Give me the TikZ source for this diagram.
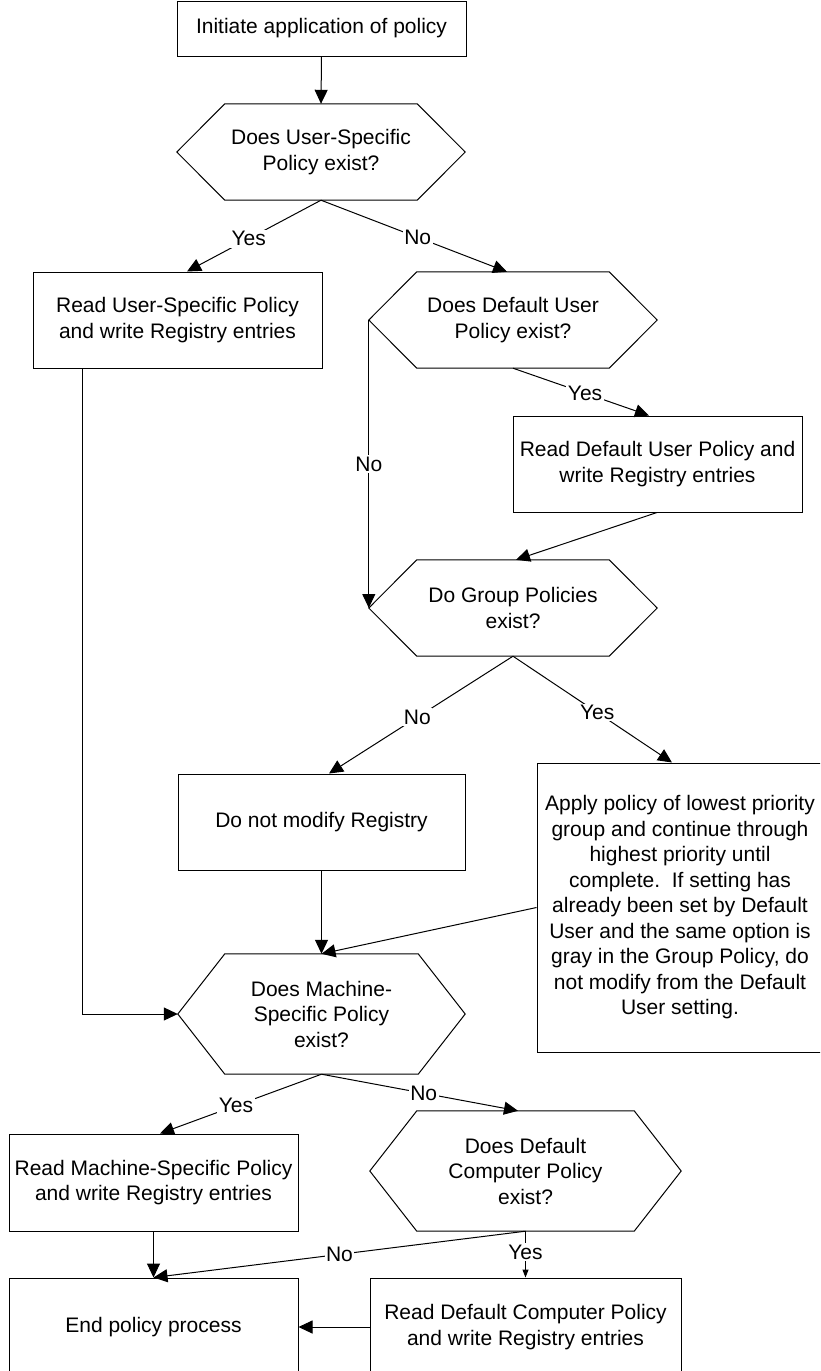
\documentclass[tikz,border=0pt]{standalone}
\usepackage{fontspec}
\setmainfont{Liberation Sans}
\usetikzlibrary{arrows.meta}
\tikzset{
  ln/.style={line width=1pt, draw=black},
  arr/.style={ln, -{Triangle[length=14pt,width=13pt]}},
  smallarr/.style={ln, -{Triangle[length=8pt,width=6pt]}},
  box/.style={draw=black, line width=1pt, inner sep=0pt, align=center, shape=rectangle},
  hexnode/.style={inner sep=0pt, align=center, shape=rectangle},
  lbl/.style={fill=white, inner sep=1.5pt}
}
\newcommand\hexpath[2]{\draw[ln] (#1.west) -- ([xshift=#2]#1.north west) -- ([xshift=-#2]#1.north east) -- (#1.east) -- ([xshift=-#2]#1.south east) -- ([xshift=#2]#1.south west) -- cycle;}
\begin{document}
\begin{tikzpicture}[x=1pt, y=-1pt, every node/.style={font=\fontsize{21}{25.5}\selectfont}]
\useasboundingbox (0,0) rectangle (820,1371);
\clip (0,0) rectangle (820,1371);
\fill[white] (0,0) rectangle (820,1371);

% nodes
\node[box, minimum width=289pt, minimum height=55pt] (b0) at (321.5,28.5) {Initiate application of policy};
\node[hexnode, minimum width=288pt, minimum height=96pt] (h1) at (321,152) {Does User-Specific\\Policy exist?};
\hexpath{h1}{48}
\node[box, minimum width=289pt, minimum height=96pt] (b1) at (177.5,320) {Read User-Specific Policy\\and write Registry entries};
\node[hexnode, minimum width=288pt, minimum height=96pt] (h2) at (513,320) {Does Default User\\Policy exist?};
\hexpath{h2}{48}
\node[box, minimum width=289pt, minimum height=96pt] (b2) at (657.5,464) {Read Default User Policy and\\write Registry entries};
\node[hexnode, minimum width=288pt, minimum height=96pt] (h3) at (513,608) {Do Group Policies\\exist?};
\hexpath{h3}{48}
\node[box, minimum width=287pt, minimum height=96pt] (b3) at (321.5,822) {Do not modify Registry};
\node[box, minimum width=286pt, minimum height=289pt] (b4) at (680,907.5) {Apply policy of lowest priority\\group and continue through\\highest priority until\\complete.\ \ If setting has\\already been set by Default\\User and the same option is\\gray in the Group Policy, do\\not modify from the Default\\User setting.};
\node[hexnode, minimum width=287pt, minimum height=120pt] (h4) at (321.5,1014) {Does Machine-\\Specific Policy\\exist?};
\hexpath{h4}{47}
\node[box, minimum width=289pt, minimum height=97pt] (b5) at (153.5,1182.5) {Read Machine-Specific Policy\\and write Registry entries};
\node[hexnode, minimum width=311pt, minimum height=120pt] (h5) at (525.5,1171) {Does Default\\Computer Policy\\exist?};
\hexpath{h5}{47}
\node[box, minimum width=289pt, minimum height=98pt] (b6) at (153.5,1327) {End policy process};
\node[box, minimum width=311pt, minimum height=98pt] (b7) at (525.5,1327) {Read Default Computer Policy\\and write Registry entries};

% connectors
\draw[arr] (b0.south) -- (h1.north);
\draw[arr] (h1.south) -- node[lbl, pos=0.54] {Yes} ([xshift=9.5pt]b1.north);
\draw[arr] (h1.south) -- node[lbl, pos=0.52] {No} ([xshift=-6pt]h2.north);
\draw[arr] (h2.south) -- node[lbl, pos=0.53] {Yes} ([xshift=-8.5pt]b2.north);
\draw[arr] (h2.west) -- node[lbl, pos=0.5] {No} (h3.west);
\draw[arr] ([xshift=-0.5pt]b2.south) -- ([xshift=3pt]h3.north);
\draw[arr] (h3.south) -- node[lbl, pos=0.52] {No} ([xshift=7.5pt]b3.north);
\draw[arr] (h3.south) -- node[lbl, pos=0.53] {Yes} ([xshift=-8pt]b4.north);
\draw[arr] (b3.south) -- (h4.north);
\draw[arr] (b4.west) -- (h4.north);
\draw[arr] ([xshift=-95.5pt]b1.south) |- (h4.west);
\draw[arr] (h4.south) -- node[lbl, pos=0.53] {Yes} ([xshift=6.5pt]b5.north);
\draw[arr] (h4.south) -- node[lbl, pos=0.52] {No} ([xshift=-7.5pt]h5.north);
\draw[arr] (b5.south) -- (b6.north);
\draw[arr] (h5.south) -- node[lbl, pos=0.5] {No} (b6.north);
\draw[smallarr] (h5.south) -- node[lbl, pos=0.45] {Yes} (b7.north);
\draw[arr] (b7.west) -- (b6.east);
\end{tikzpicture}
\end{document}
